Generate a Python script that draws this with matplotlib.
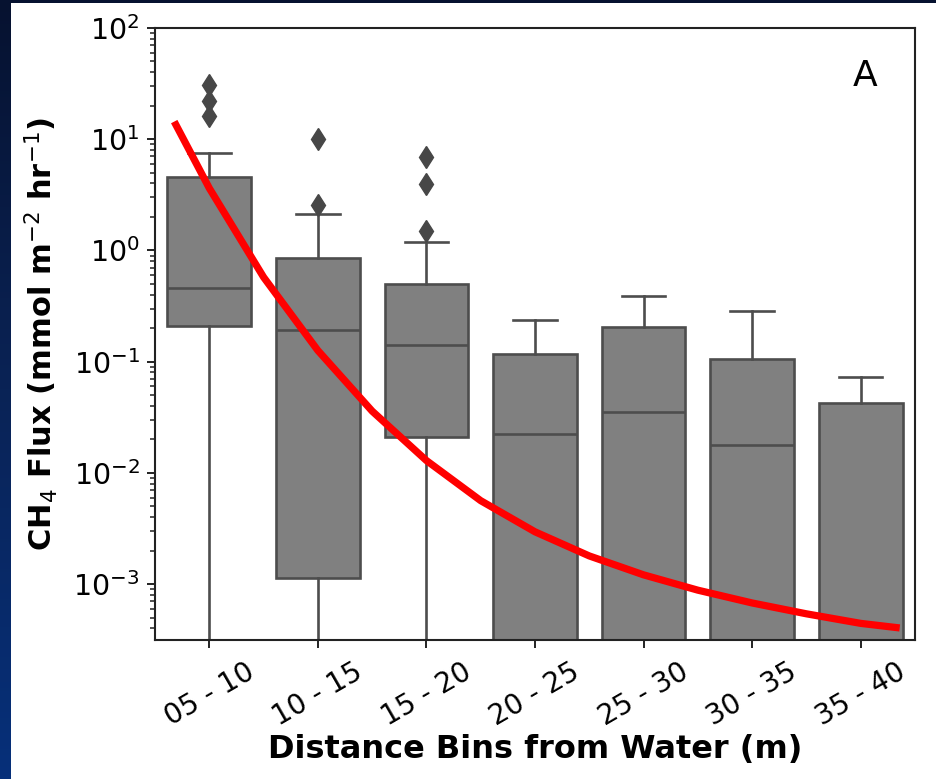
import numpy as np
import matplotlib
matplotlib.use("Agg")
import matplotlib.pyplot as plt
from matplotlib.patches import Rectangle
from matplotlib.colors import LinearSegmentedColormap

# Distance bins and box-plot summary statistics (CH4 flux, mmol m-2 hr-1)
bins = ["05 - 10", "10 - 15", "15 - 20", "20 - 25", "25 - 30", "30 - 35", "35 - 40"]
q1 = [0.21, 0.00114, 0.0211, 1e-4, 1e-4, 1e-4, 1e-4]
median = [0.458, 0.194, 0.14, 0.0225, 0.0355, 0.0179, 2e-4]
q3 = [4.55, 0.853, 0.497, 0.118, 0.206, 0.106, 0.0428]
whisker_low = [1e-4, 1e-4, 1e-4, 1e-4, 1e-4, 1e-4, 1e-4]
whisker_high = [7.59, 2.12, 1.19, 0.238, 0.391, 0.286, 0.073]
outliers = [[30.8, 22.2, 16.2], [10.0, 2.55], [6.98, 3.94, 1.51], [], [], [], []]

# Fitted decay curve (bin position, flux)
fit_pos = [-0.323, 0.0, 0.5, 1.0, 1.5, 2.0, 2.5, 3.0, 3.5, 4.0, 4.5, 5.0,
           5.5, 6.0, 6.359]
fit_flux = [14.4, 3.63, 0.575, 0.126, 0.0359, 0.0129, 0.00562, 0.00295,
            0.00179, 0.00121, 0.000881, 0.000676, 0.00054, 0.000443, 0.000403]

W, H = 937, 779
fig = plt.figure(figsize=(W / 100, H / 100), dpi=100)

# Slide background: dark blue gradient frame behind a white panel
bg = fig.add_axes([0, 0, 1, 1], zorder=-10)
cmap = LinearSegmentedColormap.from_list("slide", ["#061230", "#0a2356", "#06307a"])
grad = np.linspace(0, 1, 256).reshape(-1, 1)
bg.imshow(grad, aspect="auto", cmap=cmap, extent=[0, 1, 0, 1], origin="upper")
bg.set_axis_off()
fig.patches.append(Rectangle((11 / W, 0), 1, 1 - 3 / H, transform=fig.transFigure,
                             facecolor="white", edgecolor="none", zorder=-5))

ax = fig.add_axes([155 / W, 1 - 640 / H, 760 / W, 612 / H])
ax.set_facecolor("white")

stats = []
for i in range(len(bins)):
    stats.append(dict(med=median[i], q1=q1[i], q3=q3[i],
                      whislo=whisker_low[i], whishi=whisker_high[i],
                      fliers=outliers[i], label=bins[i]))

line_col = "#4d4d4d"
ax.bxp(stats, positions=range(len(bins)), widths=0.77, capwidths=0.4,
       patch_artist=True, showfliers=True,
       boxprops=dict(facecolor="#808080", edgecolor=line_col, linewidth=1.9),
       medianprops=dict(color=line_col, linewidth=1.9),
       whiskerprops=dict(color=line_col, linewidth=1.9),
       capprops=dict(color=line_col, linewidth=1.9),
       flierprops=dict(marker="d", markerfacecolor="#474747",
                       markeredgecolor="#474747", markersize=11.5))

ax.plot(fit_pos, fit_flux, color="#ff0000", linewidth=5.2,
        solid_capstyle="butt", solid_joinstyle="round", zorder=5)

ax.set_yscale("log")
ax.set_ylim(3.14e-4, 100)
ax.set_xlim(-0.5, 6.5)
ax.set_xticks(range(len(bins)))
ax.set_xticklabels(bins, rotation=30, ha="center", fontsize=20)
ax.tick_params(axis="y", labelsize=20.5)
ax.tick_params(axis="both", which="major", length=6, width=1.4, colors="#222222",
               labelcolor="black", pad=5)
ax.tick_params(axis="x", pad=7)
ax.tick_params(axis="y", which="minor", length=3.5, width=1.1, colors="#222222")
for s in ax.spines.values():
    s.set_linewidth(1.5)
    s.set_color("#222222")

ax.set_ylabel(r"CH$_4$ Flux (mmol m$^{-2}$ hr$^{-1}$)", fontsize=22, fontweight="bold")
ax.set_xlabel("Distance Bins from Water (m)", fontsize=23, fontweight="bold")
ax.yaxis.set_label_coords(-0.125, 0.5)
ax.xaxis.set_label_coords(0.5, -0.153)

ax.text(0.934, 0.921, "A", transform=ax.transAxes, fontsize=26,
        ha="center", va="center")

fig.savefig("out.png", dpi=100)
